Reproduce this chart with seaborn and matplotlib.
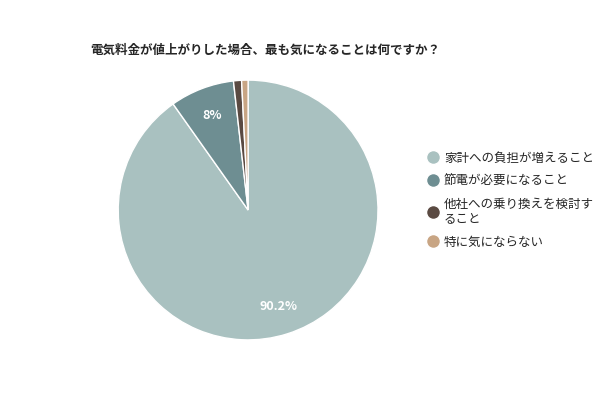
import matplotlib
matplotlib.use("Agg")
import matplotlib.pyplot as plt
import seaborn as sns
import numpy as np
from matplotlib.lines import Line2D

sns.set_theme(style="white")
plt.rcParams['font.family'] = ['Noto Sans CJK JP', 'DejaVu Sans']

title = "電気料金が値上がりした場合、最も気になることは何ですか？"
categories = ["家計への負担が増えること", "節電が必要になること", "他社への乗り換えを検討す\nること", "特に気にならない"]
values = [90.2, 8.0, 1.0, 0.8]
labels = ["90.2%", "8%", "", ""]
colors = ["#a9c1c0", "#6e8e92", "#5a4a42", "#c8a584"]

fig = plt.figure(figsize=(6, 4), dpi=100)
ax = fig.add_axes([0.197, 0.15, 0.433, 0.65])
wedges, _ = ax.pie(values, colors=colors, startangle=90, counterclock=False,
                   wedgeprops=dict(edgecolor="white", linewidth=1))
for w, lab in zip(wedges, labels):
    if not lab:
        continue
    ang = np.deg2rad((w.theta1 + w.theta2) / 2)
    r = 0.78
    ax.text(r * np.cos(ang), r * np.sin(ang), lab, ha="center", va="center",
            color="white", fontsize=9, fontweight="bold")
ax.set_xlim(-1, 1)
ax.set_ylim(-1, 1)
ax.set_aspect("equal")

fig.text(0.15, 0.875, title, fontsize=9, fontweight="bold", ha="left", va="center")

handles = [Line2D([0], [0], marker="o", color="w", markerfacecolor=c, markersize=10) for c in colors]
fig.legend(handles, categories, loc="center left", bbox_to_anchor=(0.69, 0.5),
           frameon=False, fontsize=9, handletextpad=0.3, labelspacing=0.8, handlelength=1.2)
fig.savefig("out.png", dpi=100)
